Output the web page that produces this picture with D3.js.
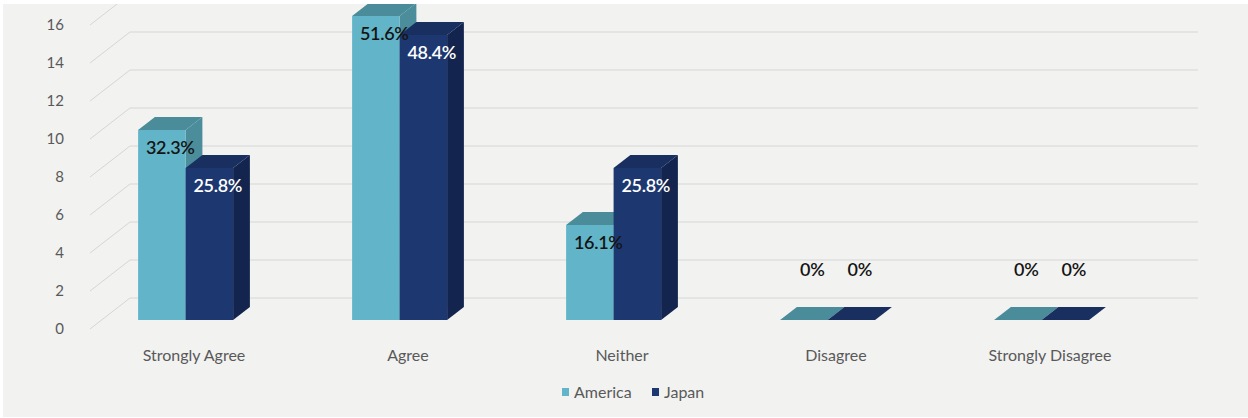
<!DOCTYPE html>
<html>
<head>
<meta charset="utf-8">
<script src="https://cdn.jsdelivr.net/npm/d3@7"></script>
<style>
  html, body { margin: 0; padding: 0; background: #ffffff; }
  svg { display: block; }
  text { font-family: "Lato", "Open Sans", sans-serif; }
</style>
</head>
<body>
<svg id="chart" width="1248" height="418"></svg>
<script>
// Survey responses (counts out of 31 respondents per country)
const categories = ["Strongly Agree", "Agree", "Neither", "Disagree", "Strongly Disagree"];
const seriesNames = ["America", "Japan"];
const americaValues = [10, 16, 5, 0, 0];
const japanValues = [8, 15, 8, 0, 0];
const americaLabels = ["32.3%", "51.6%", "16.1%", "0%", "0%"];
const japanLabels = ["25.8%", "48.4%", "25.8%", "0%", "0%"];
const yTicks = [0, 2, 4, 6, 8, 10, 12, 14, 16];

const palette = {
  America: { front: "#62b5c9", side: "#4b8d9b", top: "#4a8c99", label: "#141414" },
  Japan:   { front: "#1d3870", side: "#13254e", top: "#182f5f", label: "#ffffff" }
};

const W = 1248, H = 418;
const svg = d3.select("#chart");

// panel background
svg.append("rect").attr("x", 3).attr("y", 4).attr("width", W - 3).attr("height", H - 5)
  .attr("fill", "#f2f2f1");
svg.append("clipPath").attr("id", "panel")
  .append("rect").attr("x", 3).attr("y", 4).attr("width", W - 3).attr("height", H - 5);
const g = svg.append("g").attr("clip-path", "url(#panel)");

// oblique projection: depth d in [0,1] shifts right and up
const depthX = 40, depthY = 31;
const y = d3.scaleLinear().domain([0, 16]).range([329, 25]);
const proj = (X, v, d) => [X + depthX * d, y(v) - depthY * d];

const x = d3.scaleBand().domain(categories).range([67, 1137]).padding(0);
const xs = d3.scaleBand().domain(seriesNames).range([-47.5, 47.5]).padding(0);
const floorX0 = 90, floorX1 = 1158;
const d0 = 0.29, d1 = 0.71;

// gridlines: floor diagonals + back wall lines
const grid = g.append("g").attr("stroke", "#d6d6d6").attr("stroke-width", 1).attr("fill", "none");
yTicks.forEach(t => {
  const a = proj(floorX0, t, 0), b = proj(floorX0, t, 1), c = proj(floorX1, t, 1);
  grid.append("path").attr("d", d3.line()([a, b, c]));
});

// y tick labels
g.append("g").selectAll("text").data(yTicks).join("text")
  .attr("x", 64).attr("y", t => y(t)).attr("dy", "0.35em")
  .attr("text-anchor", "end").attr("font-size", 15).attr("fill", "#595959")
  .text(d => d);

// bars
const rows = categories.map((c, i) => ({
  cat: c,
  items: [
    { series: "America", value: americaValues[i], label: americaLabels[i] },
    { series: "Japan", value: japanValues[i], label: japanLabels[i] }
  ]
}));

const poly = pts => "M" + pts.map(p => p.join(",")).join("L") + "Z";
const bars = g.append("g");
const labels = g.append("g");

rows.forEach(r => {
  const cx = x(r.cat) + x.bandwidth() / 2;
  r.items.forEach(it => {
    const xl = cx + xs(it.series), xr = xl + xs.bandwidth();
    const v = it.value, col = palette[it.series];
    const grp = bars.append("g");
    // right side
    grp.append("path").attr("fill", col.side).attr("d", poly([
      proj(xr, 0, d0), proj(xr, 0, d1), proj(xr, v, d1), proj(xr, v, d0)
    ]));
    // top face
    grp.append("path").attr("fill", col.top).attr("d", poly([
      proj(xl, v, d0), proj(xr, v, d0), proj(xr, v, d1), proj(xl, v, d1)
    ]));
    // front face
    if (v > 0) {
      grp.append("path").attr("fill", col.front).attr("d", poly([
        proj(xl, 0, d0), proj(xr, 0, d0), proj(xr, v, d0), proj(xl, v, d0)
      ]));
    }
    // value label
    const mid = (d0 + d1) / 2;
    const [lx] = proj((xl + xr) / 2, v, mid);
    const topY = proj(xl, v, d0)[1];
    labels.append("text")
      .attr("x", lx)
      .attr("y", v > 0 ? topY + 18 : topY - 50)
      .attr("dy", "0.35em")
      .attr("text-anchor", "middle")
      .attr("font-size", 18).attr("font-weight", 600)
      .attr("letter-spacing", "-0.3px")
      .attr("fill", v > 0 ? col.label : "#141414")
      .text(it.label);
  });
});

// category labels
g.append("g").selectAll("text").data(categories).join("text")
  .attr("x", c => proj(x(c) + x.bandwidth() / 2, 0, 0.5)[0])
  .attr("y", 355).attr("dy", "0.35em")
  .attr("text-anchor", "middle").attr("font-size", 16).attr("fill", "#595959")
  .text(c => c);

// legend
const legend = g.append("g").attr("transform", "translate(562,392)");
const legendItems = [{ name: "America", x: 0 }, { name: "Japan", x: 90 }];
legendItems.forEach(li => {
  legend.append("rect").attr("x", li.x).attr("y", -4).attr("width", 7).attr("height", 8)
    .attr("fill", palette[li.name].front);
  legend.append("text").attr("x", li.x + 12).attr("y", 0).attr("dy", "0.35em")
    .attr("font-size", 16).attr("fill", "#595959").text(li.name);
});
</script>
</body>
</html>
